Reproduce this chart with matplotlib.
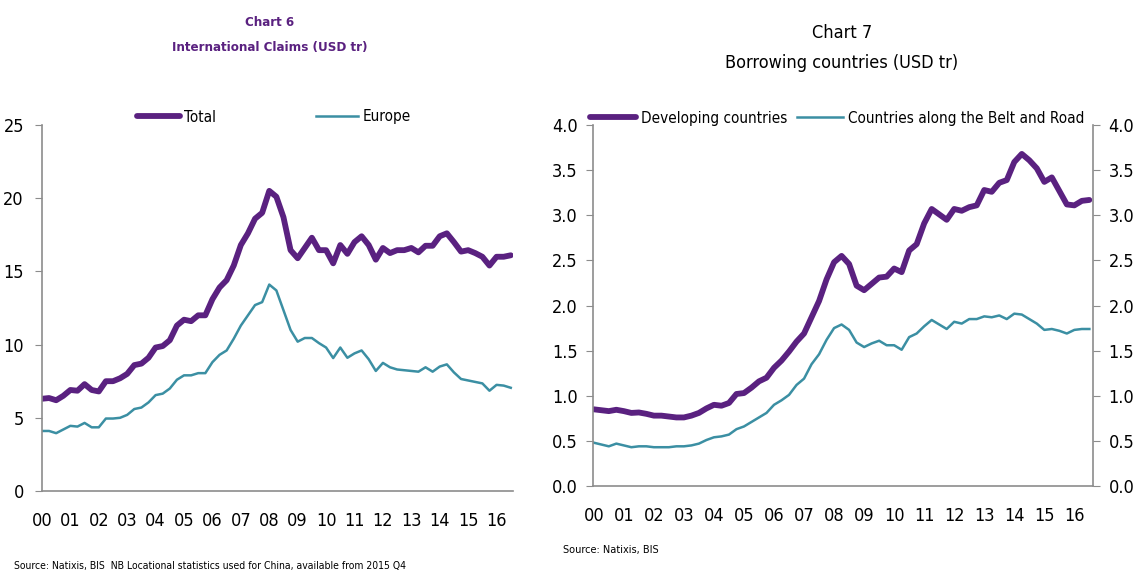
import numpy as np
import matplotlib.pyplot as plt
from matplotlib import font_manager

# schmale Schrift suchen (Original ist eine Condensed-Schrift)
narrow = None
for f in font_manager.fontManager.ttflist:
    st = str(f.stretch)
    if 'Narrow' in f.name or 'Condensed' in f.name or st in ('condensed', 'semi-condensed', '600', '700'):
        narrow = f
        break
if narrow is not None:
    plt.rcParams['font.family'] = [narrow.name, 'DejaVu Sans']
    plt.rcParams['font.stretch'] = narrow.stretch
    k = 1.0
else:
    plt.rcParams['font.family'] = ['DejaVu Sans']
    k = 0.87

# quarterly data 2000Q1 .. 2016Q3
years = ["00", "01", "02", "03", "04", "05", "06", "07", "08",
         "09", "10", "11", "12", "13", "14", "15", "16"]

total = [6.3, 6.35, 6.2, 6.5, 6.9, 6.85, 7.3, 6.9,
         6.8, 7.5, 7.5, 7.7, 8.0, 8.6, 8.7, 9.1,
         9.8, 9.9, 10.3, 11.3, 11.7, 11.6, 12.0, 12.0,
         13.1, 13.9, 14.4, 15.4, 16.8, 17.6, 18.6, 19.0,
         20.5, 20.1, 18.7, 16.45, 15.9, 16.6, 17.3, 16.45,
         16.45, 15.55, 16.8, 16.2, 17.0, 17.4, 16.8, 15.8,
         16.6, 16.25, 16.45, 16.45, 16.6, 16.3, 16.75, 16.75,
         17.4, 17.6, 17.0, 16.35, 16.45, 16.25, 16.0, 15.4,
         16.0, 16.0, 16.1]

europe = [4.1, 4.1, 3.95, 4.2, 4.45, 4.4, 4.65, 4.35,
          4.35, 4.95, 4.95, 5.0, 5.2, 5.6, 5.7, 6.05,
          6.55, 6.65, 7.0, 7.6, 7.9, 7.9, 8.05, 8.05,
          8.8, 9.3, 9.6, 10.4, 11.3, 12.0, 12.7, 12.9,
          14.1, 13.7, 12.35, 11.0, 10.2, 10.45, 10.45, 10.1,
          9.8, 9.08, 9.8, 9.1, 9.4, 9.6, 9.0, 8.2,
          8.75, 8.45, 8.3, 8.25, 8.2, 8.15, 8.45, 8.15,
          8.5, 8.65, 8.1, 7.65, 7.55, 7.45, 7.35, 6.85,
          7.25, 7.2, 7.05]

developing = [0.85, 0.84, 0.83, 0.845, 0.83, 0.81, 0.815, 0.80,
              0.78, 0.78, 0.77, 0.76, 0.76, 0.78, 0.81, 0.86,
              0.90, 0.89, 0.92, 1.02, 1.03, 1.09, 1.16, 1.20,
              1.31, 1.39, 1.49, 1.60, 1.69, 1.87, 2.05, 2.29,
              2.48, 2.55, 2.46, 2.22, 2.17, 2.24, 2.31, 2.32,
              2.41, 2.37, 2.61, 2.68, 2.91, 3.07, 3.01, 2.95,
              3.07, 3.05, 3.09, 3.11, 3.28, 3.26, 3.36, 3.39,
              3.59, 3.68, 3.61, 3.52, 3.37, 3.42, 3.27, 3.12,
              3.11, 3.16, 3.17]

belt_road = [0.48, 0.46, 0.44, 0.47, 0.45, 0.43, 0.44, 0.44,
             0.43, 0.43, 0.43, 0.44, 0.44, 0.45, 0.47, 0.51,
             0.54, 0.55, 0.57, 0.63, 0.66, 0.71, 0.76, 0.81,
             0.90, 0.95, 1.01, 1.12, 1.19, 1.35, 1.46, 1.62,
             1.75, 1.79, 1.73, 1.59, 1.54, 1.58, 1.61, 1.56,
             1.56, 1.51, 1.65, 1.69, 1.77, 1.84, 1.79, 1.74,
             1.82, 1.80, 1.85, 1.85, 1.88, 1.87, 1.89, 1.85,
             1.91, 1.90, 1.85, 1.80, 1.73, 1.74, 1.72, 1.69,
             1.73, 1.74, 1.74]

purple = '#5a2180'
teal = '#3b8fa3'
grey = '#8c8c8c'
fs_tick = 13 * k
fs_leg = 11 * k
W, H = 1137, 572

fig = plt.figure(figsize=(11.37, 5.72), dpi=100)

# ---------------- Chart 6 ----------------
ax1 = fig.add_axes([0.0369, 0.1416, 0.4142, 0.6399])
x = np.arange(len(total))
ax1.plot(x, total, color=purple, lw=4.2, solid_capstyle='round', label='Total')
ax1.plot(x, europe, color=teal, lw=1.8, label='Europe')
ax1.set_xlim(0, 66.3)
ax1.set_ylim(0, 25)
ax1.set_yticks([0, 5, 10, 15, 20, 25])
ax1.set_xticks(np.arange(0, len(total), 4))
ax1.set_xticklabels(years)
for s in ['top', 'right']:
    ax1.spines[s].set_visible(False)
for s in ['left', 'bottom']:
    ax1.spines[s].set_color(grey)
    ax1.spines[s].set_linewidth(1.2)
ax1.tick_params(axis='y', length=5, color=grey, labelsize=fs_tick, pad=8)
ax1.tick_params(axis='x', length=0, labelsize=fs_tick, pad=15)
ax1.legend(ncol=2, frameon=False, fontsize=fs_leg, loc='center left',
           bbox_to_anchor=(137 / W, 1 - 117 / H), bbox_transform=fig.transFigure,
           handlelength=2.8, handletextpad=0.3, columnspacing=6.5,
           borderaxespad=0, borderpad=0)

fig.text(270 / W, 1 - 22 / H, 'Chart 6', ha='center', va='center',
         color=purple, fontsize=9.5 * k, fontweight='bold')
fig.text(270 / W, 1 - 47 / H, 'International Claims (USD tr)', ha='center',
         va='center', color=purple, fontsize=9.5 * k, fontweight='bold')
fig.text(14 / W, 1 - 566 / H,
         'Source: Natixis, BIS  NB Locational statistics used for China, available from 2015 Q4',
         ha='left', va='center', fontsize=7.5 * k)

# ---------------- Chart 7 ----------------
ax2 = fig.add_axes([0.5216, 0.1503, 0.4398, 0.6311])
x2 = np.arange(len(developing))
ax2.plot(x2, developing, color=purple, lw=4.2, solid_capstyle='round',
         label='Developing countries')
ax2.plot(x2, belt_road, color=teal, lw=1.8, label='Countries along the Belt and Road')
ax2.set_xlim(-0.1, 66.5)
ax2.set_ylim(0, 4)
yt = np.arange(0, 4.01, 0.5)
ax2.set_yticks(yt)
ax2.set_yticklabels([f'{v:.1f}' for v in yt])
ax2.set_xticks(np.arange(0, len(developing), 4))
ax2.set_xticklabels(years)
ax2.spines['top'].set_visible(False)
for s in ['left', 'bottom', 'right']:
    ax2.spines[s].set_color(grey)
    ax2.spines[s].set_linewidth(1.2)
ax2.tick_params(axis='y', length=5, color=grey, labelsize=fs_tick, pad=6,
                right=True, labelright=True)
ax2.tick_params(axis='x', length=0, labelsize=fs_tick, pad=15)
ax2.legend(ncol=2, frameon=False, fontsize=fs_leg, loc='center left',
           bbox_to_anchor=(590 / W, 1 - 118 / H), bbox_transform=fig.transFigure,
           handlelength=3.0, handletextpad=0.35, columnspacing=0.6,
           borderaxespad=0, borderpad=0)

fig.text(842 / W, 1 - 33 / H, 'Chart 7', ha='center', va='center', fontsize=13 * k)
fig.text(842 / W, 1 - 63 / H, 'Borrowing countries (USD tr)', ha='center',
         va='center', fontsize=13 * k)
fig.text(563 / W, 1 - 550 / H, 'Source: Natixis, BIS', ha='left',
         va='center', fontsize=7.8 * k)

fig.savefig('out.png', dpi=100, facecolor='white')
